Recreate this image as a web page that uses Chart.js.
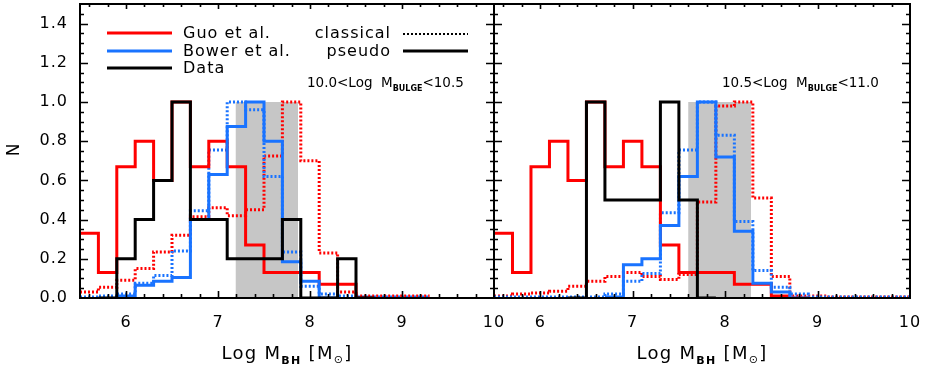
<!DOCTYPE html>
<html>
<head>
<meta charset="utf-8">
<script src="https://cdn.jsdelivr.net/npm/chart.js@4.4.1/dist/chart.umd.min.js"></script>
<style>
html,body{margin:0;padding:0;background:#fff;}
#wrap{position:relative;width:926px;height:366px;}
canvas{position:absolute;left:0;top:0;}
</style>
</head>
<body>
<div id="wrap">
<canvas id="cL" width="926" height="366"></canvas>
<canvas id="cR" width="926" height="366"></canvas>
</div>
<script>
// ---- data ----
const binEdges = [5.5,5.7,5.9,6.1,6.3,6.5,6.7,6.9,7.1,7.3,7.5,7.7,7.9,8.1,8.3,8.5,8.7,8.9,9.1,9.3,9.5,9.7,9.9,10.1];
const xTickValues = [6,7,8,9,10];
const yTickValues = [0,0.2,0.4,0.6,0.8,1.0,1.2,1.4];

// panel 1: 10.0 < log M_bulge < 10.5
const guoPseudoL   = [0.33,0.13,0.67,0.80,0.60,1.00,0.67,0.80,0.67,0.27,0.13,0.13,0.13,0.07,0.07,0];
const bowerPseudoL = [null,null,0.01,0.065,0.085,0.105,0.40,0.63,0.875,1.00,0.80,0.185,0.085,0];
const dataL        = [null,0,0.2,0.4,0.6,1.0,0.4,0.4,0.2,0.2,0.2,0.4,0,0,0.2,0];
const guoClassL    = [0.03,0.055,0.09,0.15,0.235,0.32,0.415,0.46,0.42,0.45,0.725,1.0,0.70,0.23,0.03,0.01,0.01,0.01,0.01];
const bowerClassL  = [0.005,0.01,0.02,0.075,0.115,0.24,0.445,0.755,1.0,0.96,0.62,0.235,0.06,0.02,0.01,0.005,0.005,0.005,0.005];
const bandL        = [7.19,7.87];

// panel 2: 10.5 < log M_bulge < 11.0
const guoPseudoR   = [0.33,0.13,0.67,0.80,0.60,1.00,0.67,0.80,0.67,0.27,0.13,0.13,0.13,0.07,0.07,0.01,0];
const bowerPseudoR = [null,null,null,null,null,null,0.005,0.17,0.20,0.37,0.62,1.00,0.72,0.34,0.075,0.03,0];
const dataR        = [null,null,null,null,0,1.0,0.5,0.5,0.5,1.0,0.5,0];
const guoClassR    = [0.01,0.02,0.025,0.035,0.06,0.085,0.11,0.13,0.11,0.095,0.12,0.49,0.98,1.0,0.51,0.11,0.01,0.01,0.005,0.005,0.005,0.005,0.005];
const bowerClassR  = [0.005,0.005,0.005,0.005,0.005,0.005,0.02,0.085,0.125,0.435,0.755,1.0,0.83,0.39,0.14,0.055,0.02,0.005,0.005,0.005,0.005,0.005,0.005];
const bandR        = [7.6,8.28];

const labelsLegend = ['Guo et al.','Bower et al.','Data'];
const labelsStyle = ['classical','pseudo'];

// ---- style ----
const RED = '#ff0000', BLUE = 'rgb(25,115,255)', BLACK = '#000000', GRAY = '#c6c6c6';
const FONT = '"DejaVu Sans", Verdana, sans-serif';

function histPoints(vals){
  const pts = [];
  let last = -1;
  for (let i = 0; i < vals.length; i++){
    if (vals[i] === null || vals[i] === undefined) continue;
    pts.push({x: binEdges[i], y: vals[i]});
    last = i;
  }
  pts.push({x: binEdges[last+1], y: vals[last]});
  return pts;
}

function ds(vals, color, dotted, order){
  return {
    data: histPoints(vals), borderColor: color, borderWidth: 3,
    borderDash: dotted ? [2,2] : [], stepped: true, pointRadius: 0,
    fill: false, order: order, borderCapStyle: 'butt', borderJoinStyle: 'miter'
  };
}
function band(r){
  return {data: [{x:r[0],y:1},{x:r[1],y:1}], borderWidth:0, backgroundColor: GRAY,
          fill:'origin', pointRadius:0, order: 100};
}

function drawRich(ctx, parts, x, y, align, sp){
  ctx.letterSpacing = (sp||0) + 'px';
  let w = 0;
  parts.forEach(p => { ctx.font = p.f; w += ctx.measureText(p.t).width; });
  let cx = align === 'center' ? x - w/2 : (align === 'right' ? x - w : x);
  ctx.textAlign = 'left'; ctx.textBaseline = 'alphabetic';
  parts.forEach(p => { ctx.font = p.f; ctx.fillText(p.t, cx, y + (p.dy||0)); cx += ctx.measureText(p.t).width; });
  ctx.letterSpacing = '0px';
}

const framePlugin = {
  id: 'frame',
  beforeDraw(chart){ chart.ctx.letterSpacing = '1px'; },
  afterDatasetsDraw(chart){
    const {ctx, chartArea:a, scales} = chart;
    const xs = scales.x, ys = scales.y;
    ctx.save();
    ctx.strokeStyle = '#000'; ctx.lineWidth = 2; ctx.setLineDash([]);
    ctx.strokeRect(a.left, a.top, a.right - a.left, a.bottom - a.top);
    ctx.lineWidth = 1.6;
    ctx.beginPath();
    for (let k = 1; k < 30; k++){
      const v = k*0.05;
      const y = Math.round(ys.getPixelForValue(v)) + 0.5;
      const len = (k % 4 === 0) ? 8 : 4;
      ctx.moveTo(a.left, y); ctx.lineTo(a.left + len, y);
      ctx.moveTo(a.right, y); ctx.lineTo(a.right - len, y);
    }
    for (let k = 1; k < 23; k++){
      const v = 5.5 + k*0.2 - 0.1;
      const x = Math.round(xs.getPixelForValue(v)) + 0.5;
      const major = Math.abs(v - Math.round(v)) < 1e-6;
      const len = major ? 7 : 4;
      ctx.moveTo(x, a.bottom); ctx.lineTo(x, a.bottom - len);
      ctx.moveTo(x, a.top); ctx.lineTo(x, a.top + (major ? 5 : 3));
    }
    ctx.stroke();
    ctx.restore();
  },
  afterDraw(chart, args, opts){
    const {ctx, chartArea:a} = chart;
    ctx.save();
    ctx.fillStyle = '#000';
    const cxMid = (a.left + a.right)/2;
    // x title
    drawRich(ctx, [
      {t:'Log M', f:'18px '+FONT},
      {t:'BH', f:'bold 11px '+FONT, dy:5},
      {t:' [M', f:'18px '+FONT},
      {t:'\u2299', f:'11px '+FONT, dy:4},
      {t:']', f:'18px '+FONT}
    ], cxMid, 359, 'center', 1.3);
    // range label
    drawRich(ctx, [
      {t:opts.range[0] + '<Log  M', f:'13.5px '+FONT},
      {t:'BULGE', f:'bold 8px '+FONT, dy:4},
      {t:'<' + opts.range[1], f:'13.5px '+FONT}
    ], opts.rangeX, 87, 'left', 0);
    if (opts.legend){
      ctx.letterSpacing = '1px';
      ctx.lineWidth = 3;
      const cols = [RED, BLUE, BLACK];
      const ys = [33, 51, 68];
      for (let i = 0; i < 3; i++){
        ctx.strokeStyle = cols[i];
        ctx.beginPath(); ctx.moveTo(107, ys[i]); ctx.lineTo(172, ys[i]); ctx.stroke();
        ctx.font = '16px ' + FONT; ctx.textAlign = 'left'; ctx.textBaseline = 'middle';
        ctx.fillText(labelsLegend[i], 183, ys[i] + 1);
      }
      ctx.textAlign = 'right';
      ctx.fillText(labelsStyle[0], 391, 34);
      ctx.fillText(labelsStyle[1], 391, 52);
      ctx.letterSpacing = '0px';
      ctx.strokeStyle = '#000';
      ctx.lineWidth = 2; ctx.setLineDash([2,2]);
      ctx.beginPath(); ctx.moveTo(403, 34); ctx.lineTo(468, 34); ctx.stroke();
      ctx.lineWidth = 3; ctx.setLineDash([]);
      ctx.beginPath(); ctx.moveTo(403, 51); ctx.lineTo(468, 51); ctx.stroke();
      // y title
      ctx.save();
      ctx.translate(15, 150); ctx.rotate(-Math.PI/2);
      ctx.font = '17px ' + FONT; ctx.textAlign = 'center'; ctx.textBaseline = 'middle';
      ctx.fillText('N', 0, 0);
      ctx.restore();
    }
    ctx.restore();
  }
};

function makeChart(id, sets, pad, showY, opts){
  return new Chart(document.getElementById(id), {
    type: 'line',
    data: { datasets: sets },
    options: {
      responsive: false, animation: false, devicePixelRatio: 1,
      layout: { padding: pad },
      plugins: { legend: {display:false}, tooltip: {enabled:false}, frame: opts },
      scales: {
        x: { type:'linear', min:5.5, max:10,
             grid:{display:false, drawTicks:false}, border:{display:false},
             afterBuildTicks: s => { s.ticks = xTickValues.map(v => ({value:v})); },
             afterFit: s => { s.height = 68; s.paddingLeft = 0; s.paddingRight = 0; },
             ticks:{ color:'#000', font:{family:FONT, size:16}, padding:15, maxRotation:0,
                     callback: v => String(v) } },
        y: { type:'linear', min:0, max:1.5, display: showY,
             grid:{display:false, drawTicks:false}, border:{display:false},
             afterBuildTicks: s => { s.ticks = yTickValues.map(v => ({value:v})); },
             afterFit: s => { s.width = showY ? 80 : 0; s.paddingTop = 0; s.paddingBottom = 0; },
             ticks:{ color:'#000', font:{family:FONT, size:16}, padding:12,
                     callback: v => Number(v).toFixed(1) } }
      }
    },
    plugins: [framePlugin]
  });
}

makeChart('cL', [
  ds(dataL, BLACK, false, 1),
  ds(bowerPseudoL, BLUE, false, 2),
  ds(guoPseudoL, RED, false, 3),
  ds(bowerClassL, BLUE, true, 4),
  ds(guoClassL, RED, true, 5),
  band(bandL)
], {left:0, right:432, top:4, bottom:0}, true, {legend:true, range:['10.0','10.5'], rangeX:307});

makeChart('cR', [
  ds(dataR, BLACK, false, 1),
  ds(bowerPseudoR, BLUE, false, 2),
  ds(guoPseudoR, RED, false, 3),
  ds(bowerClassR, BLUE, true, 4),
  ds(guoClassR, RED, true, 5),
  band(bandR)
], {left:494, right:16, top:4, bottom:0}, false, {legend:false, range:['10.5','11.0'], rangeX:722});
</script>
</body>
</html>
